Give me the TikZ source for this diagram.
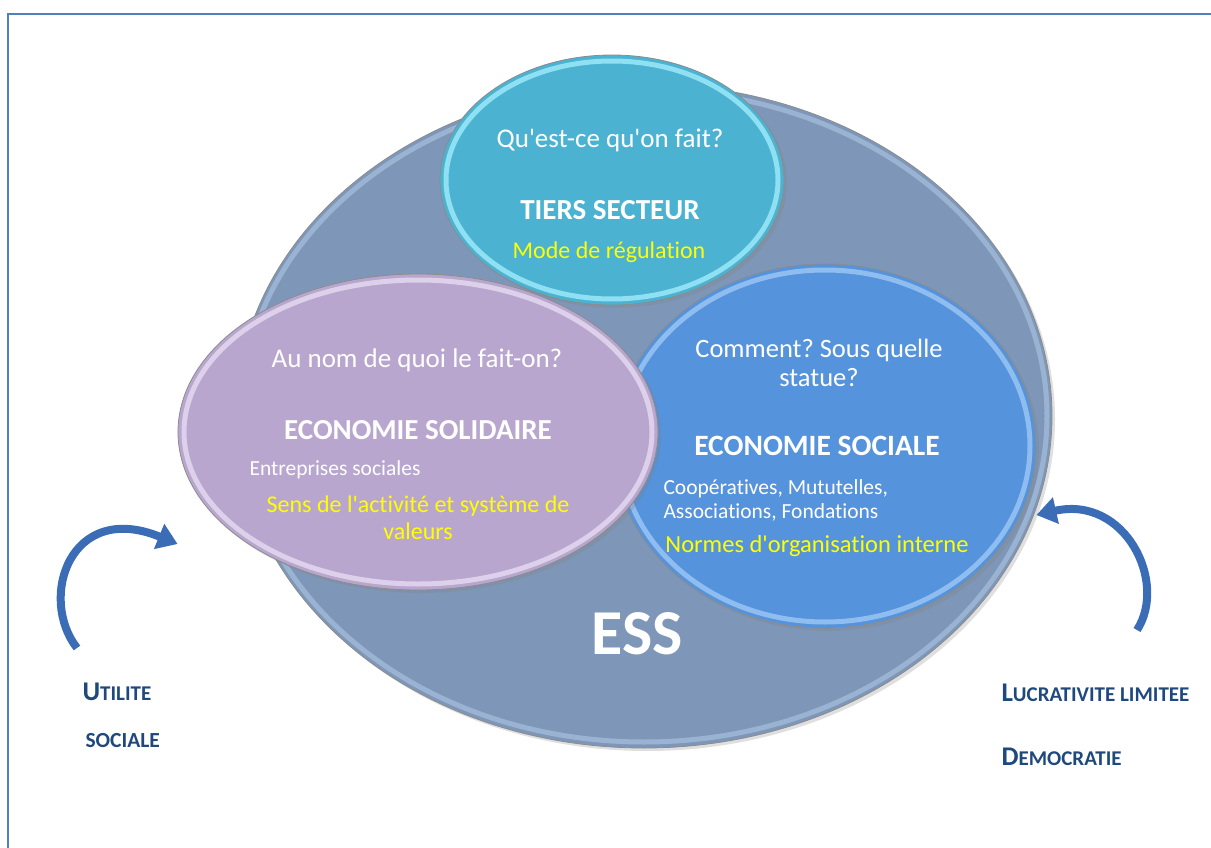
\documentclass[tikz,border=0pt]{standalone}
\usepackage{fontspec}
\setmainfont{Carlito}[Ligatures={NoCommon}]
\usetikzlibrary{shapes.geometric,arrows.meta,shadows}

\definecolor{cadre}{HTML}{4F81BD}
\definecolor{fondess}{HTML}{7E97B8}
\definecolor{bordess}{HTML}{A8C0DE}
\definecolor{tiers}{HTML}{4BB3D1}
\definecolor{bordtiers}{HTML}{8EE0F2}
\definecolor{solid}{HTML}{B9A6CE}
\definecolor{bordsolid}{HTML}{DCD0EA}
\definecolor{social}{HTML}{5593DC}
\definecolor{bordsocial}{HTML}{8FBDF0}
\definecolor{jaune}{HTML}{FFFF00}
\definecolor{titre}{HTML}{1F497D}
\definecolor{fleche}{HTML}{3A6DB5}

\newcommand{\apos}{\textquotesingle}
\frenchspacing

\begin{document}
\begin{tikzpicture}[x=1pt, y=-1pt,
    bulle/.style={ellipse, inner sep=0pt, draw=black!45, line width=0.8pt,
      drop shadow={opacity=0.25, shadow xshift=3pt, shadow yshift=-3pt}},
    blanc/.style={text=white, align=center},
    fleche courbe/.style={draw=fleche, line width=8pt,
      -{Triangle[width=26pt, length=20pt]}},
    etiquette/.style={anchor=west, text=titre, font=\bfseries}]

    % cadre de la page
    \useasboundingbox (0,0) rectangle (1211,848);
    \draw[cadre, line width=1.5pt] (8,14) rectangle (1230,870);

    % grande ellipse ESS
    \node[bulle, fill=fondess, minimum width=816pt, minimum height=664pt] (ess) at (644,416) {};
    \draw[bordess, line width=5pt, opacity=0.7] (ess.center) ellipse [x radius=403pt, y radius=326pt];

    % les trois bulles
    \node[bulle, fill=social, minimum width=422pt, minimum height=364pt] (sociale) at (825,446) {};
    \draw[bordsocial, line width=5pt] (sociale.center) ellipse [x radius=205pt, y radius=176pt];
    \node[bulle, fill=tiers, minimum width=344pt, minimum height=250pt] (tiers) at (612,180) {};
    \draw[bordtiers, line width=5pt] (tiers.center) ellipse [x radius=166pt, y radius=119pt];
    \node[bulle, fill=solid, minimum width=480pt, minimum height=316pt] (solidaire) at (418,432) {};
    \draw[bordsolid, line width=5pt] (solidaire.center) ellipse [x radius=234pt, y radius=152pt];

    % textes du tiers secteur
    \node[blanc, font=\fontsize{27}{32}\selectfont] (quoi) at (610,140) {Qu\apos est-ce qu\apos on fait?};
    \node[blanc, font=\fontsize{29}{34}\selectfont\bfseries] (nomtiers) at (610,210) {TIERS SECTEUR};
    \node[text=jaune, font=\fontsize{24}{28}\selectfont] (regul) at (609,252) {Mode de régulation};

    % textes de l'economie solidaire
    \node[blanc, font=\fontsize{27}{32}\selectfont] (pourquoi) at (417,360) {Au nom de quoi le fait-on?};
    \node[blanc, font=\fontsize{29}{34}\selectfont\bfseries] (nomsolid) at (418,430) {ECONOMIE SOLIDAIRE};
    \node[text=white, anchor=west, font=\fontsize{21.5}{25}\selectfont] (entrep) at (246,470) {Entreprises sociales};
    \node[text=jaune, align=center, font=\fontsize{24}{27}\selectfont] (sens) at (418,518)
        {Sens de l\apos activité et système de\\valeurs};

    % textes de l'economie sociale
    \node[blanc, font=\fontsize{26.5}{29}\selectfont] (comment) at (819,363) {Comment? Sous quelle\\statue?};
    \node[blanc, font=\fontsize{29.5}{34}\selectfont\bfseries] (nomsocial) at (817,446) {ECONOMIE SOCIALE};
    \node[text=white, anchor=west, align=left, font=\fontsize{21.5}{24}\selectfont] (statuts) at (660,500)
        {Coopératives, Mututelles,\\Associations, Fondations};
    \node[text=jaune, font=\fontsize{24.5}{28}\selectfont] (normes) at (817,546) {Normes d\apos organisation interne};

    % sigle central
    \node[blanc, font=\fontsize{64}{70}\selectfont\bfseries] (sigle) at (637,634) {ESS};

    % fleches courbes
    \coordinate (queueg) at (77,648);
    \coordinate (queued) at (1137,630);
    \draw[fleche courbe] (queueg) .. controls (38,598) and (70,500) .. (solidaire.west |- 0,544);
    \draw[fleche courbe] (queued) .. controls (1168,582) and (1125,495) .. (sociale.east |- 0,515);

    % valeurs de chaque cote
    \node[etiquette] (utilite) at (79,692) {{\fontsize{27}{28}\selectfont U}{\fontsize{21}{28}\selectfont TILITE}};
    \node[etiquette] (sociale2) at (82,741) {\fontsize{21.5}{28}\selectfont SOCIALE};
    \node[etiquette] (lucra) at (998,693) {{\fontsize{27}{28}\selectfont L}{\fontsize{21}{28}\selectfont UCRATIVITE LIMITEE}};
    \node[etiquette] (democ) at (998,757) {{\fontsize{27}{28}\selectfont D}{\fontsize{21}{28}\selectfont EMOCRATIE}};
\end{tikzpicture}
\end{document}
